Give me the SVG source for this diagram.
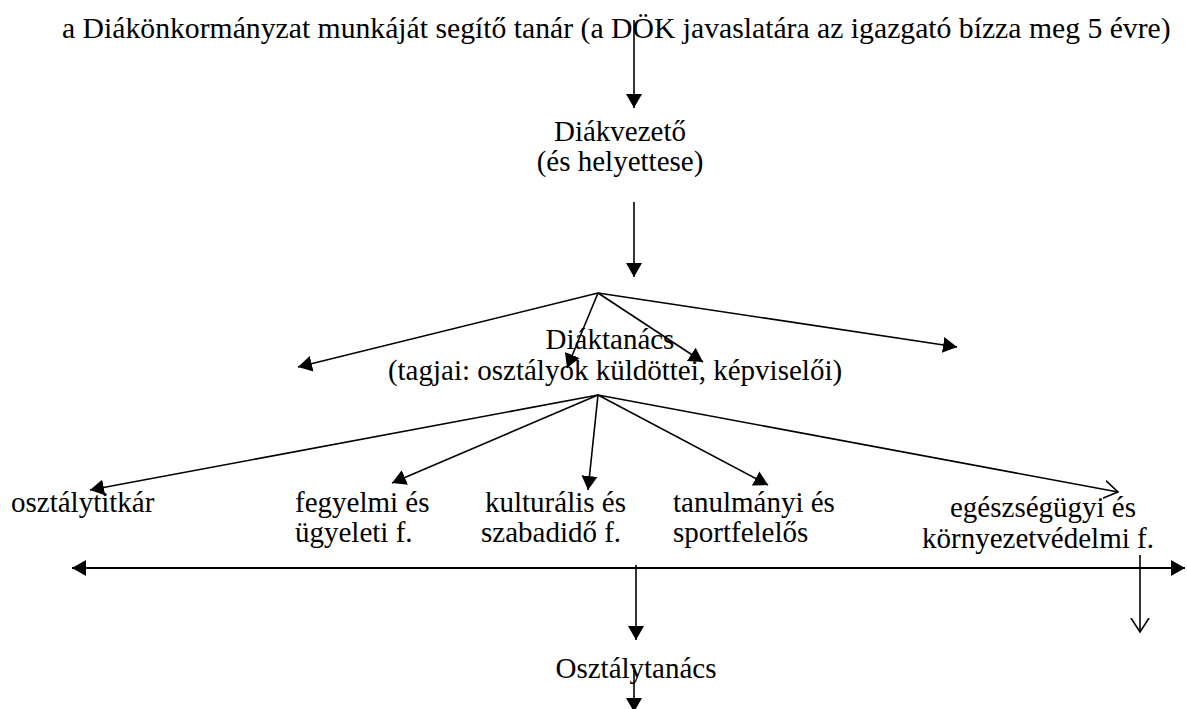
<svg xmlns="http://www.w3.org/2000/svg" width="1187" height="709" viewBox="0 0 1187 709">
<style>
text{font-family:"Liberation Serif","Times New Roman",Times,serif;font-size:29px;fill:#000}
.c{text-anchor:middle}
.t{font-size:29.7px}
.ln{stroke:#000;stroke-width:1.6;fill:none}
.hl{stroke:#000;stroke-width:2.2;fill:none}
</style>
<defs>
<marker id="af" markerUnits="userSpaceOnUse" markerWidth="16" markerHeight="18" refX="14" refY="8" orient="auto-start-reverse" viewBox="0 0 16 16">
<path d="M0,0 L14,8 L0,16 Z" fill="#000"/>
</marker>
<marker id="ao" markerUnits="userSpaceOnUse" markerWidth="16" markerHeight="20" refX="14" refY="9" orient="auto" viewBox="0 0 16 18">
<path d="M0,0 L14,9 L0,18" fill="none" stroke="#000" stroke-width="1.6"/>
</marker>
</defs>
<rect width="1187" height="709" fill="#fff"/>
<g id="n-tanar" font-family="Liberation Serif, serif"><text class="t" x="62" y="38">a Diákönkormányzat munkáját segítő tanár (a DÖK javaslatára az igazgató bízza meg 5 évre)</text></g>
<g id="n-diakvezeto" font-family="Liberation Serif, serif"><text class="c" x="620" y="141">Diákvezető</text><text class="c" x="620" y="171">(és helyettese)</text></g>
<g id="n-diaktanacs" font-family="Liberation Serif, serif"><text class="c" x="610" y="349">Diáktanács</text><text class="c" x="615" y="380">(tagjai: osztályok küldöttei, képviselői)</text></g>
<g id="n-osztalytitkar" font-family="Liberation Serif, serif"><text x="11" y="512">osztálytitkár</text></g>
<g id="n-fegyelmi" font-family="Liberation Serif, serif"><text x="295" y="512">fegyelmi és</text><text x="295" y="542">ügyeleti f.</text></g>
<g id="n-kulturalis" font-family="Liberation Serif, serif"><text x="485" y="512">kulturális és</text><text x="481" y="542">szabadidő f.</text></g>
<g id="n-tanulmanyi" font-family="Liberation Serif, serif"><text x="673" y="512">tanulmányi és</text><text x="673" y="542">sportfelelős</text></g>
<g id="n-egeszseg" font-family="Liberation Serif, serif"><text x="950" y="517">egészségügyi és</text><text x="922" y="548">környezetvédelmi f.</text></g>
<g id="n-osztalytanacs" font-family="Liberation Serif, serif"><text class="c" x="636" y="678">Osztálytanács</text></g>
<g id="connectors">
<line class="ln" x1="634" y1="20" x2="634" y2="108" marker-end="url(#af)"/>
<line class="ln" x1="634" y1="202" x2="634" y2="277" marker-end="url(#af)"/>
<line class="ln" x1="598" y1="293" x2="298" y2="367" marker-end="url(#af)"/>
<line class="ln" x1="598" y1="293" x2="567" y2="368" marker-end="url(#af)"/>
<line class="ln" x1="598" y1="293" x2="703" y2="362" marker-end="url(#af)"/>
<line class="ln" x1="598" y1="293" x2="957" y2="347" marker-end="url(#af)"/>
<line class="ln" x1="598" y1="395" x2="90" y2="490" marker-end="url(#af)"/>
<line class="ln" x1="598" y1="395" x2="392" y2="483" marker-end="url(#af)"/>
<line class="ln" x1="598" y1="395" x2="588" y2="490" marker-end="url(#af)"/>
<line class="ln" x1="598" y1="395" x2="768" y2="485" marker-end="url(#af)"/>
<line class="ln" x1="598" y1="395" x2="1118" y2="492" marker-end="url(#ao)"/>
<line class="hl" x1="72" y1="568" x2="1185" y2="568" marker-start="url(#af)" marker-end="url(#af)"/>
<line class="ln" x1="636" y1="565" x2="636" y2="640" marker-end="url(#af)"/>
<line class="ln" x1="1140" y1="555" x2="1140" y2="632" marker-end="url(#ao)"/>
<line class="ln" x1="634" y1="670" x2="634" y2="712" marker-end="url(#af)"/>
</g>
</svg>
